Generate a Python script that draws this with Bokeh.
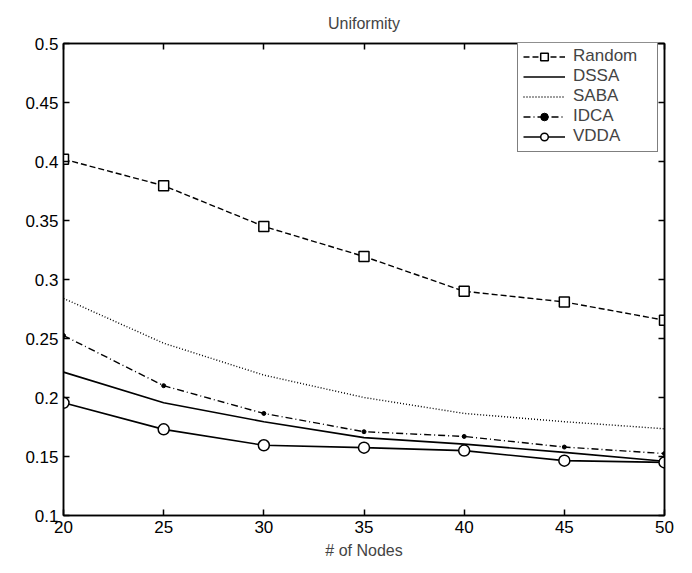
from bokeh.plotting import figure
from bokeh.models import (Range1d, FixedTicker, LinearAxis, Legend, LegendItem, Title)
from bokeh.embed import file_html
from bokeh.resources import INLINE

nodes = [20, 25, 30, 35, 40, 45, 50]
random_vals = [0.402, 0.3795, 0.345, 0.3195, 0.290, 0.281, 0.2655]
dssa_vals = [0.2215, 0.1955, 0.1795, 0.166, 0.1605, 0.1535, 0.146]
saba_vals = [0.284, 0.246, 0.219, 0.200, 0.1865, 0.1795, 0.1735]
idca_vals = [0.2525, 0.210, 0.1865, 0.171, 0.167, 0.158, 0.1525]
vdda_vals = [0.1955, 0.173, 0.1595, 0.1575, 0.155, 0.1465, 0.145]

x_ticks = [20, 25, 30, 35, 40, 45, 50]
y_ticks = [0.1, 0.15, 0.2, 0.25, 0.3, 0.35, 0.4, 0.45, 0.5]
y_labels = ["0.1", "0.15", "0.2", "0.25", "0.3", "0.35", "0.4", "0.45", "0.5"]

FONT = "Liberation Sans"

p = figure(width=684, height=565, output_backend="svg", toolbar_location=None,
           x_range=Range1d(20, 50), y_range=Range1d(0.1, 0.5),
           min_border_left=63, min_border_right=20, min_border_top=43, min_border_bottom=50)
p.title = Title(text="Uniformity", align="center", text_font=FONT, text_font_size="16px",
                text_font_style="normal", standoff=24)
p.title.offset = 0
p.xgrid.visible = False
p.ygrid.visible = False
p.outline_line_color = "black"
p.outline_line_width = 1.5
p.outline_line_alpha = 1
p.background_fill_color = "white"
p.border_fill_color = "white"

def style_axis(ax, labels=True):
    ax.axis_line_color = "black"
    ax.axis_line_width = 1.5
    ax.major_tick_line_color = "black"
    ax.major_tick_line_width = 1.5
    ax.major_tick_in = 6
    ax.major_tick_out = 0
    ax.minor_tick_line_color = None
    ax.major_label_text_font = FONT
    ax.major_label_text_font_size = "17px" if labels else "1px"
    ax.major_label_text_color = "black"
    ax.major_label_standoff = 5 if labels else 0

p.xaxis.ticker = FixedTicker(ticks=x_ticks)
p.yaxis.ticker = FixedTicker(ticks=y_ticks)
p.yaxis.major_label_overrides = {t: l for t, l in zip(y_ticks, y_labels)}
style_axis(p.xaxis[0])
style_axis(p.yaxis[0])
p.xaxis.axis_label = "# of Nodes"
p.xaxis.axis_label_text_font = FONT
p.xaxis.axis_label_text_font_size = "16px"
p.xaxis.axis_label_text_font_style = "normal"
p.xaxis.axis_label_standoff = 6

top_ax = LinearAxis(ticker=FixedTicker(ticks=x_ticks))
style_axis(top_ax, labels=False)
top_ax.major_label_overrides = {t: "" for t in x_ticks}
p.add_layout(top_ax, "above")
right_ax = LinearAxis(ticker=FixedTicker(ticks=y_ticks))
style_axis(right_ax, labels=False)
right_ax.major_label_overrides = {t: "" for t in y_ticks}
p.add_layout(right_ax, "right")

lw = 1.4
r_random = p.line(nodes, random_vals, line_color="black", line_width=lw, line_dash="6 3")
m_random = p.scatter(nodes, random_vals, marker="square", size=10, line_color="black",
                     fill_color="white", line_width=1.5)
r_dssa = p.line(nodes, dssa_vals, line_color="black", line_width=1.6)
r_saba = p.line(nodes, saba_vals, line_color="black", line_width=lw, line_dash="1 2")
r_idca = p.line(nodes, idca_vals, line_color="black", line_width=lw, line_dash="7 3 1 3")
m_idca = p.scatter(nodes, idca_vals, marker="circle", size=4, line_color="black",
                   fill_color="black")
r_vdda = p.line(nodes, vdda_vals, line_color="black", line_width=1.6)
m_vdda = p.scatter(nodes, vdda_vals, marker="circle", size=11, line_color="black",
                   fill_color="white", line_width=1.5)

legend = Legend(items=[
    LegendItem(label="Random", renderers=[r_random, m_random]),
    LegendItem(label="DSSA", renderers=[r_dssa]),
    LegendItem(label="SABA", renderers=[r_saba]),
    LegendItem(label="IDCA", renderers=[r_idca, m_idca]),
    LegendItem(label="VDDA", renderers=[r_vdda, m_vdda]),
], location=(454, 363))
legend.label_text_font = FONT
legend.label_text_font_size = "17px"
legend.label_height = 19
legend.glyph_height = 19
legend.glyph_width = 42
legend.label_standoff = 8
legend.label_width = 79
legend.spacing = 0
legend.padding = 5
legend.margin = 0
legend.border_line_color = "black"
legend.border_line_width = 1.2
legend.background_fill_alpha = 1
p.add_layout(legend, "center")

open("out.html", "w").write(file_html(p, INLINE))
